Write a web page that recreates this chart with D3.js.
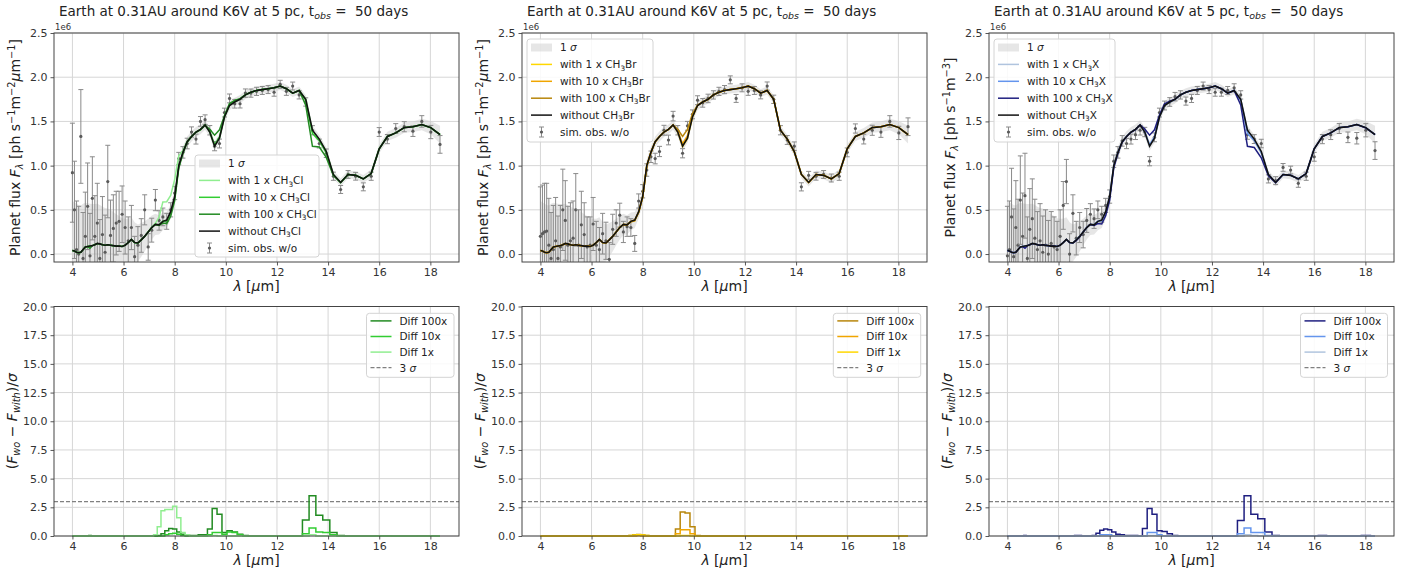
<!DOCTYPE html>
<html>
<head>
<meta charset="utf-8">
<script src="https://cdn.jsdelivr.net/npm/d3@7"></script>
<style>
  html, body { margin: 0; padding: 0; background: #fff; }
  svg { display: block; font-family: "DejaVu Sans", sans-serif; }
  text { white-space: pre; }
</style>
</head>
<body>
<svg id="fig" width="1413" height="576"></svg>
<script>
// Wavelength grid (R = 50), in micron
const wavelength = [4.000, 4.080, 4.162, 4.245, 4.330, 4.416, 4.505, 4.595, 4.687, 4.780,
  4.876, 4.973, 5.073, 5.174, 5.278, 5.383, 5.491, 5.601, 5.713, 5.827,
  5.944, 6.062, 6.184, 6.307, 6.433, 6.562, 6.693, 6.827, 6.964, 7.103,
  7.245, 7.390, 7.538, 7.689, 7.843, 8.000, 8.160, 8.323, 8.489, 8.659,
  8.833, 9.009, 9.189, 9.373, 9.561, 9.752, 9.947, 10.146, 10.349, 10.556,
  10.767, 10.982, 11.202, 11.426, 11.655, 11.888, 12.126, 12.368, 12.615, 12.868,
  13.125, 13.388, 13.655, 13.928, 14.207, 14.491, 14.781, 15.077, 15.378, 15.686,
  15.999, 16.319, 16.646, 16.979, 17.318, 17.665, 18.018, 18.378];

// Model planet flux without the methyl halide (units of 1e6 ph s^-1 m^-2 um^-1)
const fluxWithout = [0.040, 0.035, 0.020, 0.015, 0.020, 0.050, 0.080, 0.085, 0.090, 0.095,
  0.105, 0.120, 0.115, 0.105, 0.100, 0.105, 0.100, 0.095, 0.090, 0.090,
  0.085, 0.100, 0.130, 0.165, 0.130, 0.125, 0.160, 0.200, 0.250, 0.300,
  0.335, 0.330, 0.370, 0.385, 0.480, 0.650, 1.000, 1.150, 1.270, 1.330,
  1.380, 1.410, 1.460, 1.380, 1.220, 1.310, 1.550, 1.680, 1.720, 1.750,
  1.800, 1.830, 1.850, 1.860, 1.870, 1.880, 1.900, 1.870, 1.820, 1.850,
  1.750, 1.400, 1.300, 1.160, 0.900, 0.810, 0.900, 0.890, 0.850, 0.910,
  1.190, 1.330, 1.370, 1.430, 1.440, 1.465, 1.430, 1.350];

// 1-sigma noise per spectral bin (same units)
const sigma = [0.56, 0.55, 0.55, 0.54, 0.53, 0.52, 0.50, 0.49, 0.48, 0.47,
  0.46, 0.45, 0.44, 0.43, 0.42, 0.41, 0.40, 0.38, 0.36, 0.34,
  0.32, 0.30, 0.27, 0.25, 0.23, 0.21, 0.19, 0.17, 0.15, 0.135,
  0.12, 0.11, 0.10, 0.09, 0.08, 0.075, 0.07, 0.065, 0.06, 0.058,
  0.056, 0.055, 0.054, 0.053, 0.052, 0.050, 0.050, 0.050, 0.049, 0.048,
  0.047, 0.046, 0.046, 0.045, 0.045, 0.045, 0.045, 0.045, 0.045, 0.046,
  0.047, 0.052, 0.050, 0.048, 0.046, 0.045, 0.044, 0.044, 0.045, 0.046,
  0.050, 0.052, 0.055, 0.057, 0.060, 0.065, 0.075, 0.100];

// Simulated observations (without the methyl halide), one noise draw per panel
const obsCH3Cl = [0.92, 0.50, 0.05, 0.00, 1.33, -0.05, 0.20, 0.54, -0.02, 0.63,
  0.20, 0.35, -0.05, 0.22, 0.02, 0.82, 0.21, 0.29, 0.35, 0.37,
  0.45, 0.30, 0.15, 0.30, -0.03, 0.10, 0.21, 0.50, 0.08, 0.27,
  0.61, 0.38, 0.42, 0.37, 0.50, 0.69, 1.08, 1.15, 1.25, 1.38,
  1.30, 1.50, 1.52, 1.40, 1.22, 1.25, 1.60, 1.76, 1.70, 1.70,
  1.82, 1.82, 1.84, 1.85, 1.86, 1.83, 1.92, 1.84, 1.90, 1.80,
  1.72, 1.40, 1.25, 1.14, 0.88, 0.73, 0.90, 0.88, 0.76, 0.88,
  1.38, 1.30, 1.42, 1.44, 1.39, 1.50, 1.38, 1.24];
const obsCH3Br = [0.20, 0.23, 0.25, 0.26, 0.10, -0.05, 0.05, 0.15, -0.05, 0.08,
  0.50, 0.38, 0.10, 0.15, 0.18, 0.50, 0.10, 0.33, 0.22, 0.08,
  0.10, 0.34, 0.10, 0.05, 0.23, 0.15, -0.06, 0.28, 0.35, 0.44,
  0.25, 0.31, 0.30, 0.12, 0.60, 0.71, 0.95, 1.10, 1.08, 1.16,
  1.40, 1.29, 1.56, 1.40, 1.14, 1.45, 1.58, 1.74, 1.71, 1.76,
  1.80, 1.84, 1.86, 1.97, 1.76, 1.88, 1.84, 1.85, 1.80, 1.90,
  1.75, 1.40, 1.29, 1.22, 0.76, 0.89, 0.88, 0.90, 0.86, 0.88,
  1.15, 1.42, 1.30, 1.40, 1.38, 1.50, 1.37, 1.44];
const obsCH3X = [-0.02, 0.05, 0.42, -0.03, 0.30, 0.10, 0.61, 0.20, 0.66, -0.05,
  0.28, 0.40, 0.18, 0.05, 0.15, 0.02, 0.10, 0.00, 0.12, 0.08,
  0.05, 0.20, 0.55, 0.82, 0.00, 0.46, 0.18, 0.30, 0.22, 0.38,
  0.45, 0.40, 0.50, 0.45, 0.55, 0.65, 1.05, 1.15, 1.28, 1.25,
  1.30, 1.35, 1.40, 1.38, 1.05, 1.32, 1.60, 1.68, 1.72, 1.78,
  1.80, 1.73, 1.76, 1.85, 1.90, 1.86, 1.83, 1.83, 1.85, 1.88,
  1.80, 1.35, 1.30, 1.25, 0.85, 0.83, 0.98, 0.95, 0.80, 0.88,
  1.10, 1.30, 1.35, 1.42, 1.32, 1.31, 1.40, 1.17];

// Signed difference (F_wo - F_with)/sigma for each abundance case
const diffCH3Cl1x = [0,0,0,0,0,0,0,0,0,0, 0,0,0,0,0,0,0,0,0,0,
  0,0,0,0,0,0,0,0,0,0, -0.1,-0.8,-2.2,-2.3,-2.3,-2.6,-1.6,-0.3,-0.1,0,
  0,0,0,0,-0.05,0,0,0,0,0, 0,0,0,0,0,0,0,0,0,0,
  0,0.1,0,0,0,0,0,0,0,0, 0,0,0,0,0,0,0,0];
const diffCH3Cl10x = [0,0,0,0,0,0,0,0,0,0, 0,0,0,0,0,0,0,0,0,0,
  0,0,0,0,0,0,0,0,0,0, 0,0,0,0.1,0.2,0.25,0.15,0.05,0,0,
  0,0,0,-0.1,-0.3,-0.3,-0.15,-0.35,-0.3,-0.1, 0,0,0,0,0,0,0,0,0,0,
  0.2,0.7,0.35,0.3,0.1,0,0,0,0,0, 0,0,0,0,0,0,0,0];
const diffCH3Cl100x = [0,0,0,0,0,0,0,0,0.05,0, 0,0,0,0,0,0,0,0,0,0,
  0,0,0,0,0,0,0,0,0,0, 0,0.05,0.2,0.45,0.65,0.6,0.35,0.15,0.1,0.05,
  0.05,0.1,0.1,-0.6,-2.4,-1.9,-0.3,-0.45,-0.35,-0.15, -0.05,0,0,0,0,0,0,0,0,0,
  1.4,3.5,1.8,1.4,0.3,0.05,0,0,0,0, 0.03,0.03,0,0,0,0.03,0.03,0];

const diffCH3Br1x = [0,0,0,0,0,0,0,0,0,0, 0,0,0,0,0,0,0,0,0,0,
  0,0,0,0,0,0,0,0,0,0, 0,0,0.05,0.08,0.1,0.08,0.05,0,0,0,
  0,0,0,0,0.05,0.05,0,0,0,0, 0,0,0,0,0,0,0,0,0,0,
  0,0,0,0,0,0,0,0,0,0, 0,0,0,0,0,0,0,0];
const diffCH3Br10x = [0,0,0,0,0,0,0,0,0,0, 0,0,0,0,0,0,0,0,0,0,
  0,0,0,0,0,0,0,0,0,0, 0,0,0,0,0.05,0,0,0,0,0,
  0,0,0,-0.2,-0.55,-0.55,-0.2,0,0,0, 0,0,0,0,0,0,0,0,0,0,
  0,0,0,0,0,0,0,0,0,0, 0,0,0,0,0,0,0,0];
const diffCH3Br100x = [0,0,0,0,0,0,0,0,0,0, 0,0,0,0,0,0,0,0,0,0,
  0,0,0,0,0,0,0,0,0,0, 0,0,0.05,0.1,0.12,0.1,0.05,0,0,0,
  0,0,0,-0.6,-2.1,-2.0,-0.8,-0.05,0,0, 0,0,0,0,0,0,0,0,0,0,
  0,0,0,0,0,0,0,0,0,0, 0,0,0,0,0,0,0,0];

const diffCH3X1x = [0,0,0,0,0,0,0,0,0,0, 0,0,0,0,0,0,0,0,0,0,
  0,0,0,0,0,0,0,0,0,0, 0,0,0,0,0,0,0,0,0,0,
  0,0,0,0,-0.05,-0.05,0,0,0,0, 0,0,0,0,0,0,0,0,0,0,
  0,0.1,0.05,0,0,0,0,0,0,0, 0,0,0,0,0,0,0,0];
const diffCH3X10x = [0,0,0,0,0,0,0,0,0,0, 0,0,0,0,0,0,0,0,0,0,
  0,0,0,0,0,0,0,0,0,0, 0,0,0,0.1,0.1,0.1,0,0,0,0,
  0,0,0,0,-0.3,-0.3,-0.1,0,0,0, 0,0,0,0,0,0,0,0,0,0,
  0.2,0.7,0.3,0.3,0.05,0,0,0,0,0, 0,0,0,0,0,0,0,0];
const diffCH3X100x = [0,0,0,0,0,0,0,0,0.05,0, 0,0,0,0,0,0,0,0,0,0,
  0,0,0,0,0,0,0.05,0.05,0,0, 0,0.05,0.25,0.5,0.6,0.55,0.35,0.15,0.1,0.05,
  0.05,0.05,0,-0.65,-2.4,-1.9,-0.45,-0.4,-0.2,-0.05, 0,0,0,0,0,0,0,0,0,0,
  1.35,3.5,1.9,1.5,0.35,0.05,0,0,0,0, 0,0.05,0,0,0,0,0.05,0];

const xTicks = [4, 6, 8, 10, 12, 14, 16, 18];
const fluxTicks = [0.0, 0.5, 1.0, 1.5, 2.0, 2.5];
const diffTicks = [0.0, 2.5, 5.0, 7.5, 10.0, 12.5, 15.0, 17.5, 20.0];
const threshold = 3;

const panels = [
  { species: "Cl", unit: "um", obs: obsCH3Cl,
    diffs: [diffCH3Cl1x, diffCH3Cl10x, diffCH3Cl100x],
    colors: ["#90ee90", "#32cd32", "#228b22"],
    legendTop: { x: 195, y: 155, w: 124, h: 102 },
    legendBot: { x: 366.5, y: 313.3, w: 87.5, h: 64 } },
  { species: "Br", unit: "um", obs: obsCH3Br,
    diffs: [diffCH3Br1x, diffCH3Br10x, diffCH3Br100x],
    colors: ["#ffd700", "#f0a500", "#b8860b"],
    legendTop: { x: 527, y: 39, w: 126, h: 103 },
    legendBot: { x: 833.3, y: 313.3, w: 87.4, h: 64 } },
  { species: "X", unit: "m3", obs: obsCH3X,
    diffs: [diffCH3X1x, diffCH3X10x, diffCH3X100x],
    colors: ["#b0c4de", "#6495ed", "#1f1f80"],
    legendTop: { x: 994, y: 39, w: 121, h: 103 },
    legendBot: { x: 1300.5, y: 313.3, w: 87, h: 64 } }
];

const W = 405;
const panelLeft = [54, 522, 989];
const topArea = { y0: 33, y1: 262 };
const botArea = { y0: 306.5, y1: 536 };
const xDomain = [3.28, 19.12];

const svg = d3.select("#fig");
svg.append("rect").attr("width", 1413).attr("height", 576).attr("fill", "#fff");

// Mathtext-like rich text: parts are [string, mode]; mode holds i / sub / sup
function rich(sel, parts, fs) {
  let off = 0;
  parts.forEach(([t, m]) => {
    const ts = sel.append("tspan").text(t);
    let target = 0, size = fs;
    if (m.indexOf("sub") >= 0) { target = 0.22 * fs; size = fs * 0.7; }
    if (m.indexOf("sup") >= 0) { target = -0.38 * fs; size = fs * 0.7; }
    if (m === "i" || m === "isub" || m === "isup") ts.attr("font-style", "italic");
    ts.attr("font-size", size);
    if (target !== off) { ts.attr("dy", target - off); off = target; }
  });
  return sel;
}

const lambdaLabel = [["λ", "i"], [" [", "n"], ["μ", "i"], ["m]", "n"]];

function gridLines(g, x, y, yTicks, area) {
  const x0 = x.range()[0], x1 = x.range()[1];
  g.append("g").selectAll("line").data(xTicks).join("line")
    .attr("x1", d => x(d)).attr("x2", d => x(d))
    .attr("y1", area.y0).attr("y2", area.y1)
    .attr("stroke", "#d6d6d6").attr("stroke-width", 1);
  g.append("g").selectAll("line").data(yTicks).join("line")
    .attr("x1", x0).attr("x2", x1)
    .attr("y1", d => y(d)).attr("y2", d => y(d))
    .attr("stroke", "#d6d6d6").attr("stroke-width", 1);
}

function drawAxes(g, x, y, yTicks, fmt, area) {
  const x0 = x.range()[0];
  const ax = g.append("g").attr("transform", `translate(0,${area.y1})`)
    .call(d3.axisBottom(x).tickValues(xTicks).tickSize(3.5).tickPadding(3).tickFormat(d3.format("d")));
  const ay = g.append("g").attr("transform", `translate(${x0},0)`)
    .call(d3.axisLeft(y).tickValues(yTicks).tickSize(3.5).tickPadding(3).tickFormat(fmt));
  [ax, ay].forEach(a => {
    a.select(".domain").remove();
    a.selectAll(".tick line").attr("stroke", "#444").attr("stroke-width", 0.9);
    a.selectAll(".tick text").attr("font-size", 11).attr("fill", "#333")
      .attr("font-family", "DejaVu Sans");
  });
  g.append("rect").attr("x", x0).attr("y", area.y0)
    .attr("width", W).attr("height", area.y1 - area.y0)
    .attr("fill", "none").attr("stroke", "#444").attr("stroke-width", 1);
}

function legendBox(g, box) {
  g.append("rect").attr("x", box.x).attr("y", box.y).attr("width", box.w).attr("height", box.h)
    .attr("rx", 3).attr("fill", "#fff").attr("fill-opacity", 0.85)
    .attr("stroke", "#d4d4d4").attr("stroke-width", 1);
}

panels.forEach((p, k) => {
  const left = panelLeft[k];
  const x = d3.scaleLinear().domain(xDomain).range([left, left + W]);
  const yF = d3.scaleLinear().domain([-0.09, 2.5]).range([topArea.y1, topArea.y0]);
  const yD = d3.scaleLinear().domain([0, 20]).range([botArea.y1, botArea.y0]);
  const gTop = svg.append("g");
  const gBot = svg.append("g");

  const clipTop = "clipTop" + k, clipBot = "clipBot" + k;
  svg.append("clipPath").attr("id", clipTop).append("rect")
    .attr("x", left).attr("y", topArea.y0).attr("width", W).attr("height", topArea.y1 - topArea.y0);
  svg.append("clipPath").attr("id", clipBot).append("rect")
    .attr("x", left).attr("y", botArea.y0 - 2).attr("width", W).attr("height", botArea.y1 - botArea.y0 + 4);

  const halide = p.species;
  const fmt1 = d3.format(".1f");

  // ---------- top: spectra ----------
  gridLines(gTop, x, yF, fluxTicks, topArea);
  const plotT = gTop.append("g").attr("clip-path", `url(#${clipTop})`);
  const idx = d3.range(wavelength.length);

  plotT.append("path").datum(idx)
    .attr("d", d3.area().x(i => x(wavelength[i]))
      .y0(i => yF(fluxWithout[i] - sigma[i])).y1(i => yF(fluxWithout[i] + sigma[i])))
    .attr("fill", "#c8c8c8").attr("fill-opacity", 0.45);

  const eb = plotT.append("g").selectAll("g").data(idx).join("g");
  eb.append("line").attr("x1", i => x(wavelength[i])).attr("x2", i => x(wavelength[i]))
    .attr("y1", i => yF(p.obs[i] - sigma[i])).attr("y2", i => yF(p.obs[i] + sigma[i]))
    .attr("stroke", "#8a8a8a").attr("stroke-width", 1);
  [-1, 1].forEach(s => {
    eb.append("line").attr("x1", i => x(wavelength[i]) - 2.5).attr("x2", i => x(wavelength[i]) + 2.5)
      .attr("y1", i => yF(p.obs[i] + s * sigma[i])).attr("y2", i => yF(p.obs[i] + s * sigma[i]))
      .attr("stroke", "#8a8a8a").attr("stroke-width", 1);
  });
  eb.append("circle").attr("cx", i => x(wavelength[i])).attr("cy", i => yF(p.obs[i]))
    .attr("r", 1.6).attr("fill", "#5a5a5a");

  const withLine = d => d3.line().x(i => x(wavelength[i]))
    .y(i => yF(fluxWithout[i] - d[i] * sigma[i]));
  p.diffs.forEach((d, j) => {
    plotT.append("path").datum(idx).attr("d", withLine(d))
      .attr("fill", "none").attr("stroke", p.colors[j]).attr("stroke-width", 1.5);
  });
  plotT.append("path").datum(idx)
    .attr("d", d3.line().x(i => x(wavelength[i])).y(i => yF(fluxWithout[i])))
    .attr("fill", "none").attr("stroke", "#111").attr("stroke-width", 1.6);

  drawAxes(gTop, x, yF, fluxTicks, fmt1, topArea);

  gTop.append("text").attr("x", left + 1).attr("y", topArea.y0 - 3)
    .attr("font-size", 8.5).attr("fill", "#333").text("1e6");

  rich(gTop.append("text").attr("x", left + 5).attr("y", 16).attr("font-size", 13.5).attr("fill", "#222"),
    [["Earth at 0.31AU around K6V at 5 pc, t", "n"], ["obs", "isub"], [" =  50 days", "n"]], 13.5);

  const ylab = p.unit === "um"
    ? [["Planet flux ", "n"], ["F", "i"], ["λ", "isub"], [" [ph s", "n"], ["−1", "sup"], ["m", "n"], ["−2", "sup"], ["μ", "i"], ["m", "n"], ["−1", "sup"], ["]", "n"]]
    : [["Planet flux ", "n"], ["F", "i"], ["λ", "isub"], [" [ph s", "n"], ["−1", "sup"], ["m", "n"], ["−3", "sup"], ["]", "n"]];
  rich(gTop.append("text").attr("text-anchor", "middle").attr("fill", "#222").attr("font-size", 14)
    .attr("transform", `translate(${left - 34},${(topArea.y0 + topArea.y1) / 2}) rotate(-90)`), ylab, 14);

  rich(gTop.append("text").attr("text-anchor", "middle").attr("fill", "#222").attr("font-size", 14)
    .attr("x", left + W / 2).attr("y", 291), lambdaLabel, 14);

  // legend (top)
  const lt = p.legendTop;
  legendBox(gTop, lt);
  const sub3 = (pre) => [[pre + "CH", "n"], ["3", "sub"], [halide, "n"]];
  const topEntries = [
    { kind: "patch", label: [["1 ", "n"], ["σ", "i"]] },
    { kind: "line", color: p.colors[0], label: sub3("with 1 x ") },
    { kind: "line", color: p.colors[1], label: sub3("with 10 x ") },
    { kind: "line", color: p.colors[2], label: sub3("with 100 x ") },
    { kind: "line", color: "#111", label: sub3("without ") },
    { kind: "err", label: [["sim. obs. w/o", "n"]] }
  ];
  topEntries.forEach((e, r) => {
    const cy = lt.y + 8.5 + r * 16.9;
    const hx = lt.x + 4, hl = 21;
    if (e.kind === "patch") {
      gTop.append("rect").attr("x", hx).attr("y", cy - 4).attr("width", hl).attr("height", 8)
        .attr("fill", "#c8c8c8").attr("fill-opacity", 0.45);
    } else if (e.kind === "line") {
      gTop.append("line").attr("x1", hx).attr("x2", hx + hl).attr("y1", cy).attr("y2", cy)
        .attr("stroke", e.color).attr("stroke-width", 1.5);
    } else {
      const cx = hx + hl / 2;
      gTop.append("line").attr("x1", cx).attr("x2", cx).attr("y1", cy - 5).attr("y2", cy + 5)
        .attr("stroke", "#8a8a8a").attr("stroke-width", 1);
      [-5, 5].forEach(o => gTop.append("line").attr("x1", cx - 2.5).attr("x2", cx + 2.5)
        .attr("y1", cy + o).attr("y2", cy + o).attr("stroke", "#8a8a8a").attr("stroke-width", 1));
      gTop.append("circle").attr("cx", cx).attr("cy", cy).attr("r", 1.6).attr("fill", "#5a5a5a");
    }
    rich(gTop.append("text").attr("x", lt.x + 33).attr("y", cy + 3.8).attr("font-size", 10.5).attr("fill", "#222"),
      e.label, 10.5);
  });

  // ---------- bottom: significance ----------
  gridLines(gBot, x, yD, diffTicks, botArea);
  const plotB = gBot.append("g").attr("clip-path", `url(#${clipBot})`);
  plotB.append("line").attr("x1", left).attr("x2", left + W)
    .attr("y1", yD(threshold)).attr("y2", yD(threshold))
    .attr("stroke", "#808080").attr("stroke-width", 1.2).attr("stroke-dasharray", "4,2");
  const stepLine = d => d3.line().curve(d3.curveStep)
    .x(i => x(wavelength[i])).y(i => yD(Math.abs(d[i])));
  [2, 1, 0].forEach(j => {
    plotB.append("path").datum(idx).attr("d", stepLine(p.diffs[j]))
      .attr("fill", "none").attr("stroke", p.colors[j]).attr("stroke-width", 1.5);
  });
  drawAxes(gBot, x, yD, diffTicks, fmt1, botArea);

  rich(gBot.append("text").attr("text-anchor", "middle").attr("fill", "#222").attr("font-size", 14)
    .attr("x", left + W / 2).attr("y", 565), lambdaLabel, 14);
  rich(gBot.append("text").attr("text-anchor", "middle").attr("fill", "#222").attr("font-size", 14)
    .attr("transform", `translate(${left - 37},${(botArea.y0 + botArea.y1) / 2}) rotate(-90)`),
    [["(", "n"], ["F", "i"], ["wo", "isub"], [" − ", "n"], ["F", "i"], ["with", "isub"], [")/", "n"], ["σ", "i"]], 14);

  const lb = p.legendBot;
  legendBox(gBot, lb);
  const botEntries = [
    { color: p.colors[2], label: "Diff 100x" },
    { color: p.colors[1], label: "Diff 10x" },
    { color: p.colors[0], label: "Diff 1x" },
    { color: "#808080", label: null }
  ];
  botEntries.forEach((e, r) => {
    const cy = lb.y + 7.6 + r * 15.6;
    const hx = lb.x + 4, hl = 21;
    const ln = gBot.append("line").attr("x1", hx).attr("x2", hx + hl).attr("y1", cy).attr("y2", cy)
      .attr("stroke", e.color).attr("stroke-width", e.label ? 1.5 : 1.2);
    const t = gBot.append("text").attr("x", lb.x + 33).attr("y", cy + 3.8).attr("font-size", 10.5).attr("fill", "#222");
    if (e.label) t.text(e.label);
    else { ln.attr("stroke-dasharray", "4,2"); rich(t, [["3 ", "n"], ["σ", "i"]], 10.5); }
  });
});
</script>
</body>
</html>
